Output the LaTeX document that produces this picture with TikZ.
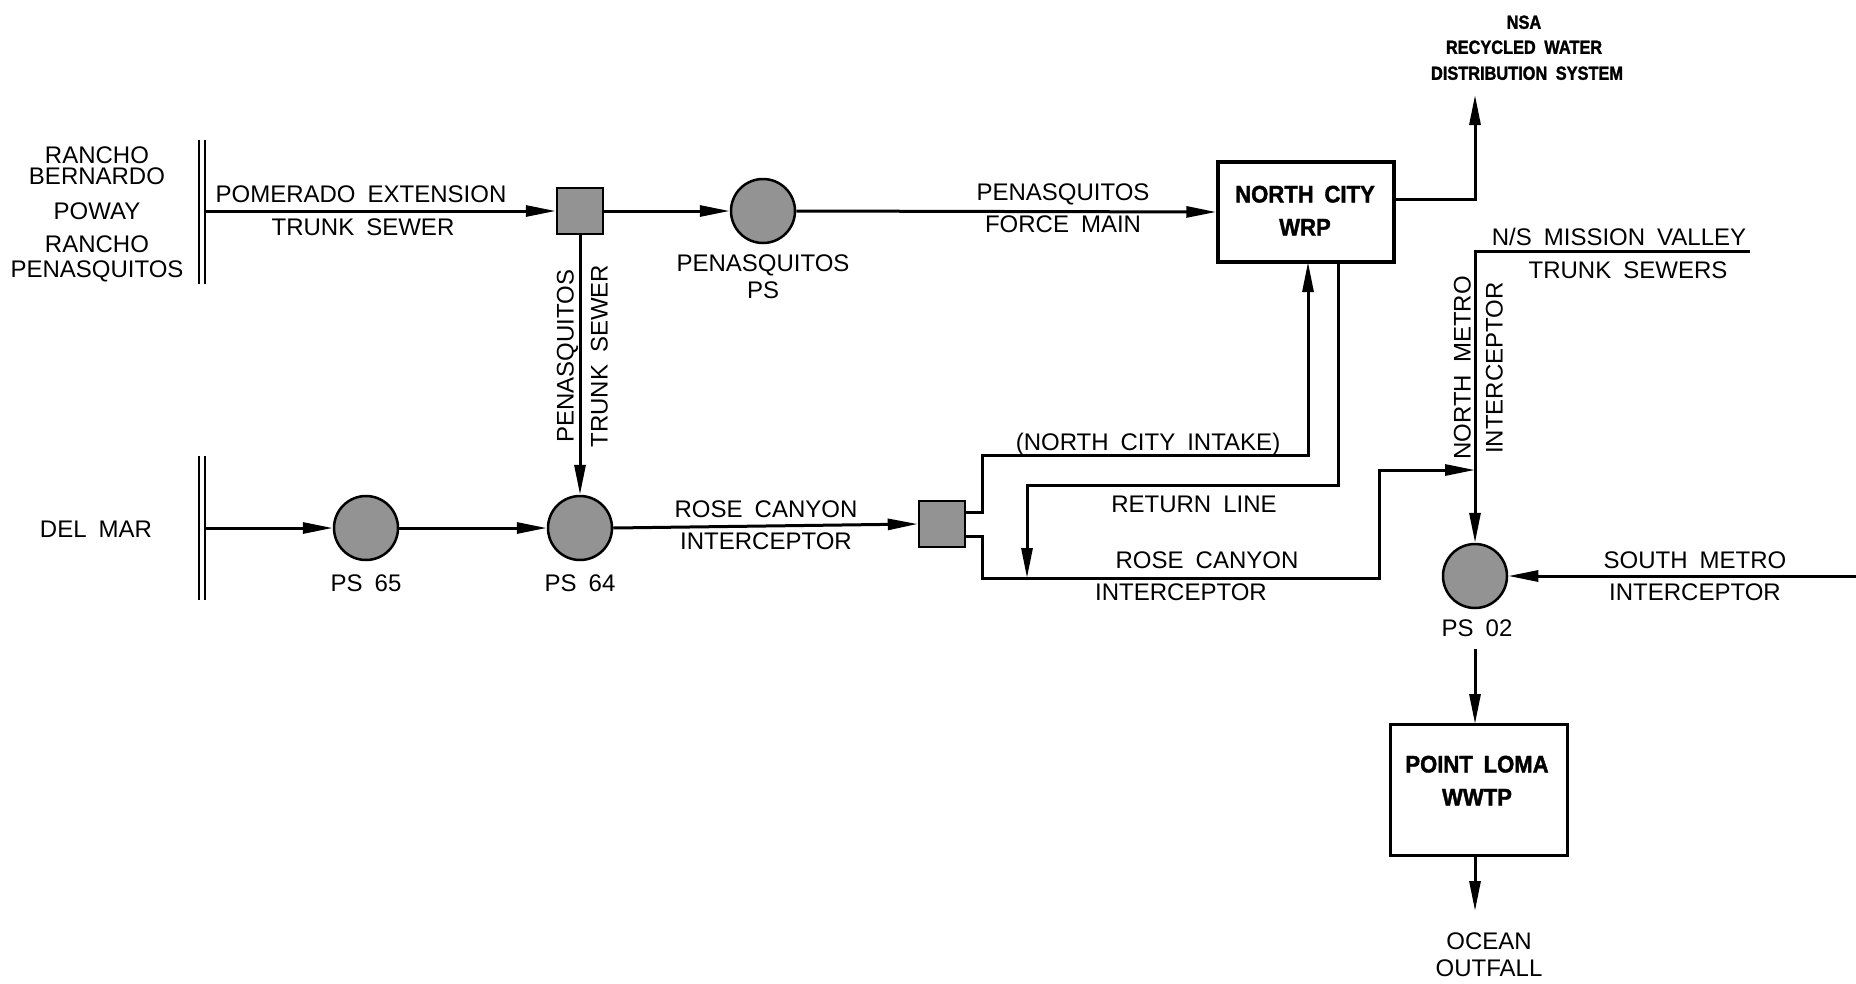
\documentclass[tikz,border=0pt]{standalone}
\usepackage{fontspec}
\setmainfont{Liberation Sans}
\newfontfamily\heavyfam[BoldFeatures={FakeBold=1.6,FakeStretch=0.92}]{Liberation Sans}
\newfontfamily\nsafam[BoldFeatures={FakeBold=1.6,FakeStretch=0.86}]{Liberation Sans}
\usetikzlibrary{arrows.meta}
\newcommand{\regf}{\fontsize{24}{28}\selectfont\spaceskip=0.5em\relax}
\newcommand{\boldf}{\heavyfam\fontsize{24}{28}\selectfont\bfseries\spaceskip=0.45em\relax}
\newcommand{\smallboldf}{\nsafam\fontsize{19}{22}\selectfont\bfseries\spaceskip=0.45em\relax}
\tikzset{
  lbl/.style={font=\regf, inner sep=0pt, text height=17pt, text depth=0pt},
  blbl/.style={font=\boldf, inner sep=0pt, text height=17pt, text depth=0pt},
  sblbl/.style={font=\smallboldf, inner sep=0pt, text height=13.6pt, text depth=0pt},
  pipe/.style={line width=3pt},
  flow/.style={pipe, -{Triangle[length=30pt,width=11pt]}},
  pump/.style={circle, draw, line width=2.5pt, fill=gray!85, minimum size=64pt, inner sep=0pt},
  junc/.style={rectangle, draw, line width=2.5pt, fill=gray!85, minimum size=46pt, inner sep=0pt},
  plant/.style={rectangle, draw, line width=3.5pt, fill=white, inner sep=0pt},
  bound/.style={line width=2pt}
}
\begin{document}
\begin{tikzpicture}[x=1pt,y=-1pt]
\useasboundingbox (0,0) rectangle (1856,983);
% boundaries
\draw[bound] (199,140) -- (199,284);
\draw[bound] (205,140) -- (205,284);
\draw[bound] (199,456) -- (199,600);
\draw[bound] (205,456) -- (205,600);
\coordinate (b1) at (205,211);
\coordinate (b2) at (205,528);
% source labels
\node[lbl] (rb1) at (97,155) {RANCHO};
\node[lbl] (rb2) at (97,176) {BERNARDO};
\node[lbl] (pw) at (97,211) {POWAY};
\node[lbl] (rp1) at (97,244) {RANCHO};
\node[lbl] (rp2) at (97,269) {PENASQUITOS};
\node[lbl] (dm) at (96,529) {DEL MAR};
% nodes
\node[junc] (sq1) at (580,211) {};
\node[pump] (pps) at (763,211) {};
\node[plant, minimum width=176pt, minimum height=100pt] (ncw) at (1306,212) {};
\node[blbl] (ncw1) at (1305,194) {NORTH CITY};
\node[blbl] (ncw2) at (1305,227) {WRP};
\node[pump] (ps65) at (366,528) {};
\node[pump] (ps64) at (580,528) {};
\node[junc] (sq2) at (942,524) {};
\node[pump] (ps02) at (1475,576) {};
\node[plant, minimum width=177pt, minimum height=131pt] (plm) at (1479,790) {};
\node[blbl] (plm1) at (1477,764) {POINT LOMA};
\node[blbl] (plm2) at (1477,797) {WWTP};
% labels
\node[lbl] (pe1) at (361,194) {POMERADO EXTENSION};
\node[lbl] (pe2) at (363,227) {TRUNK SEWER};
\node[lbl] (ppl1) at (763,263) {PENASQUITOS};
\node[lbl] (ppl2) at (763,290) {PS};
\node[lbl] (fm1) at (1063,192) {PENASQUITOS};
\node[lbl] (fm2) at (1063,224) {FORCE MAIN};
\node[sblbl] (nsa1) at (1524,22) {NSA};
\node[sblbl] (nsa2) at (1524,47) {RECYCLED WATER};
\node[sblbl] (nsa3) at (1527,73) {DISTRIBUTION SYSTEM};
\node[lbl, rotate=90] (pt1) at (565,356) {PENASQUITOS};
\node[lbl, rotate=90] (pt2) at (599,356) {TRUNK SEWER};
\node[lbl] (l65) at (366,583) {PS 65};
\node[lbl] (l64) at (580,583) {PS 64};
\node[lbl] (rc1) at (766,509) {ROSE CANYON};
\node[lbl] (rc2) at (766,541) {INTERCEPTOR};
\node[lbl] (nci) at (1148,442) {(NORTH CITY INTAKE)};
\node[lbl] (ret) at (1194,504) {RETURN LINE};
\node[lbl] (rc3) at (1207,560) {ROSE CANYON};
\node[lbl] (rc4) at (1181,592) {INTERCEPTOR};
\node[lbl] (mv1) at (1619,237) {N/S MISSION VALLEY};
\node[lbl] (mv2) at (1628,270) {TRUNK SEWERS};
\node[lbl, rotate=90] (nm1) at (1462,368) {NORTH METRO};
\node[lbl, rotate=90] (nm2) at (1494,368) {INTERCEPTOR};
\node[lbl] (l02) at (1477,628) {PS 02};
\node[lbl] (sm1) at (1695,560) {SOUTH METRO};
\node[lbl] (sm2) at (1695,592) {INTERCEPTOR};
\node[lbl] (oc1) at (1489,941) {OCEAN};
\node[lbl] (oc2) at (1489,968) {OUTFALL};
% coordinates
\coordinate (nsatip) at (1475,95);
\coordinate (ncwin) at (1308,262);
\coordinate (ncwout) at (1338,262);
\coordinate (rettip) at (1027,578);
\coordinate (nmtip) at (1475,470);
\coordinate (mvend) at (1750,251);
\coordinate (smend) at (1856,576);
\coordinate (octip) at (1475,911);
\coordinate (plmin) at (1475,724);
\coordinate (plmout) at (1475,856);
% connectors
\draw[flow] (b1) -- (sq1.west);
\draw[flow] (sq1.east) -- (pps.west);
\draw[flow] (pps.east) -- (ncw.west);
\draw[flow] ([yshift=13pt]ncw.east) -| (nsatip);
\draw[flow] (sq1.south) -- (ps64.north);
\draw[flow] (b2) -- (ps65.west);
\draw[flow] (ps65.east) -- (ps64.west);
\draw[flow] (ps64.east) -- (sq2.west);
\draw[flow] ([yshift=12pt]sq2.east) -- (982,512) -- (982,455) -| (ncwin);
\draw[flow] (ncwout) -- (1338,485) -| (rettip);
\draw[flow] ([yshift=-12pt]sq2.east) -- (982,536) |- (1379,578) |- (nmtip);
\draw[flow] (mvend) -| (ps02.north);
\draw[flow] (smend) -- (ps02.east);
\draw[flow] (1475,649) -- (plmin);
\draw[flow] (plmout) -- (octip);
\end{tikzpicture}
\end{document}
